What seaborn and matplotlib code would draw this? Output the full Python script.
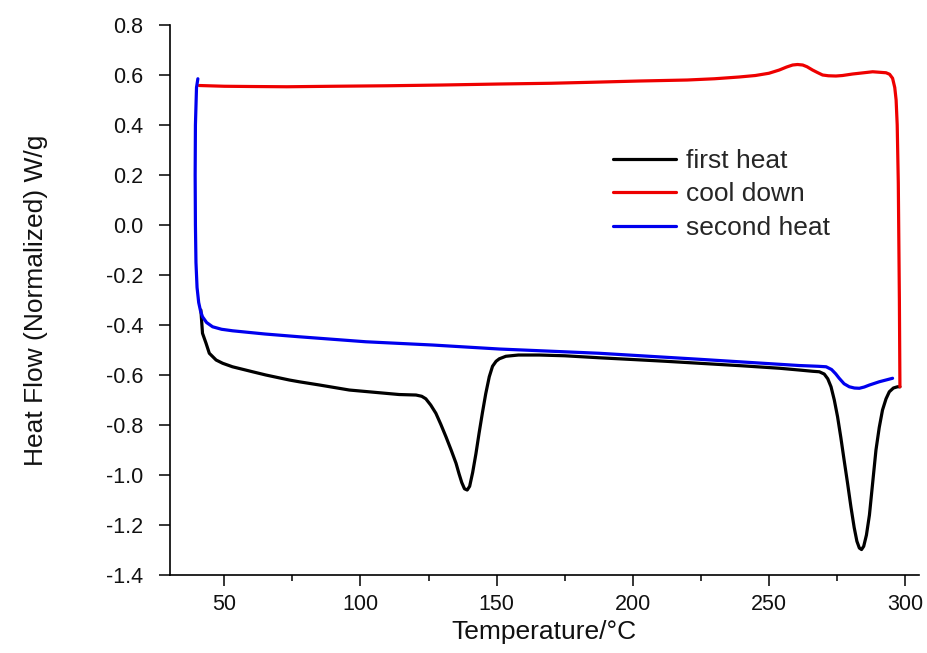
import matplotlib
matplotlib.use('Agg')
import matplotlib.pyplot as plt
import seaborn as sns
from matplotlib.ticker import MultipleLocator

# DSC curves
first_T = [41.4, 42.0, 43.3, 44.5, 47.0, 49.4, 53.0, 60.4, 65.3, 73.9, 77.5, 85.0, 95.9, 108.1,
           114.2, 120.4, 122.5, 124.0, 125.8, 127.7, 129.5, 131.4, 133.3, 135.1, 136.2, 137.2,
           138.2, 139.2, 140.1, 141.2, 142.4, 143.6, 144.8, 146.0, 147.3, 148.5, 149.8, 151.0,
           153.4, 158.0, 165.7, 175.0, 187.7, 200.0, 212.0, 224.4, 240.0, 254.0, 261.1, 266.0,
           268.5, 270.3, 271.6, 272.8, 274.0, 275.2, 276.4, 277.6, 278.9, 280.1, 281.3, 282.3,
           283.2, 284.0, 284.8, 285.8, 286.9, 288.1, 289.3, 290.5, 291.7, 293.0, 294.2, 295.7,
           297.2, 298.1]
first_hf = [-0.34, -0.433, -0.473, -0.513, -0.54, -0.553, -0.567, -0.587, -0.60, -0.62, -0.627,
            -0.64, -0.66, -0.672, -0.678, -0.68, -0.685, -0.695, -0.72, -0.753, -0.797, -0.847,
            -0.90, -0.953, -0.995, -1.03, -1.055, -1.06, -1.045, -0.99, -0.915, -0.83, -0.75,
            -0.675, -0.607, -0.565, -0.545, -0.535, -0.525, -0.52, -0.52, -0.523, -0.531,
            -0.538, -0.545, -0.553, -0.563, -0.573, -0.58, -0.585, -0.587, -0.596, -0.615,
            -0.647, -0.70, -0.767, -0.85, -0.94, -1.035, -1.127, -1.21, -1.265, -1.292, -1.298,
            -1.285, -1.24, -1.16, -1.03, -0.90, -0.81, -0.74, -0.695, -0.667, -0.652, -0.647,
            -0.647]

cool_T = [298.1, 297.9, 297.5, 297.1, 296.7, 296.2, 295.4, 294.3, 293.0, 288.1, 284.0, 280.7,
          277.0, 274.6, 271.8, 269.7, 267.8, 266.0, 264.0, 262.4, 260.5, 258.7, 256.5, 253.8,
          250.0, 245.0, 239.0, 230.0, 220.0, 202.4, 185.0, 170.0, 151.0, 130.0, 110.0, 90.0,
          73.0, 60.0, 50.0, 40.8]
cool_hf = [-0.647, -0.30, 0.168, 0.40, 0.50, 0.55, 0.587, 0.603, 0.609, 0.613, 0.608, 0.604,
           0.598, 0.596, 0.597, 0.60, 0.61, 0.62, 0.633, 0.64, 0.642, 0.64, 0.632, 0.62, 0.607,
           0.598, 0.592, 0.585, 0.58, 0.576, 0.571, 0.567, 0.564, 0.56, 0.557, 0.555, 0.553,
           0.554, 0.555, 0.558]

second_T = [40.3, 39.8, 39.4, 39.3, 39.4, 39.6, 40.0, 40.6, 41.3, 42.0, 43.5, 45.7, 49.0, 53.0,
            65.0, 77.5, 102.0, 126.5, 151.0, 187.7, 224.4, 261.1, 268.0, 271.0, 273.0, 274.5,
            275.8, 277.6, 279.5, 281.4, 283.2, 285.0, 286.9, 290.5, 295.4]
second_hf = [0.585, 0.55, 0.40, 0.20, 0.0, -0.15, -0.25, -0.31, -0.345, -0.367, -0.39, -0.407,
             -0.417, -0.423, -0.436, -0.447, -0.467, -0.48, -0.496, -0.513, -0.537, -0.562,
             -0.565, -0.567, -0.578, -0.595, -0.613, -0.635, -0.647, -0.652, -0.653, -0.648,
             -0.64, -0.627, -0.613]

sns.set_style('ticks')
plt.rcParams['font.family'] = ['Liberation Sans', 'DejaVu Sans']
plt.rcParams['axes.unicode_minus'] = False

fig = plt.figure(figsize=(9.28, 6.53), dpi=100)
ax = fig.add_axes([0.183, 0.1194, 0.807, 0.8423])

sns.lineplot(x=first_T, y=first_hf, sort=False, estimator=None, color='black', lw=2.3,
             label='first heat', ax=ax)
sns.lineplot(x=cool_T, y=cool_hf, sort=False, estimator=None, color='#ee0000', lw=2.3,
             label='cool down', ax=ax)
sns.lineplot(x=second_T, y=second_hf, sort=False, estimator=None, color='#0000ee', lw=2.3,
             label='second heat', ax=ax)

yticks = [0.8, 0.6, 0.4, 0.2, 0.0, -0.2, -0.4, -0.6, -0.8, -1.0, -1.2, -1.4]
ax.set_xlim(30, 305)
ax.set_ylim(-1.4, 0.8)
ax.set_xticks([50, 100, 150, 200, 250, 300])
ax.xaxis.set_minor_locator(MultipleLocator(25))
ax.set_yticks(yticks)
ax.set_yticklabels(['%.1f' % v for v in yticks])
ax.tick_params(axis='both', which='major', direction='out', length=8, width=1.1,
               labelsize=15.5, color='black', labelcolor='#111111', pad=6)
ax.tick_params(axis='y', which='major', pad=11)
ax.tick_params(axis='x', which='minor', direction='out', length=4, width=1.1, color='black')
for s in ['left', 'bottom']:
    ax.spines[s].set_linewidth(1.2)
    ax.spines[s].set_color('black')
sns.despine(ax=ax)

ax.set_xlabel('Temperature/°C', fontsize=19, labelpad=3, color='#111111')
ax.set_ylabel('Heat Flow (Normalized) W/g', fontsize=19, labelpad=42, color='#111111')

leg = ax.legend(loc='upper left', bbox_to_anchor=(0.56, 0.818), frameon=False, fontsize=19,
                handlelength=2.4, handletextpad=0.35, labelspacing=0.36)

fig.savefig('out.png', dpi=100)
